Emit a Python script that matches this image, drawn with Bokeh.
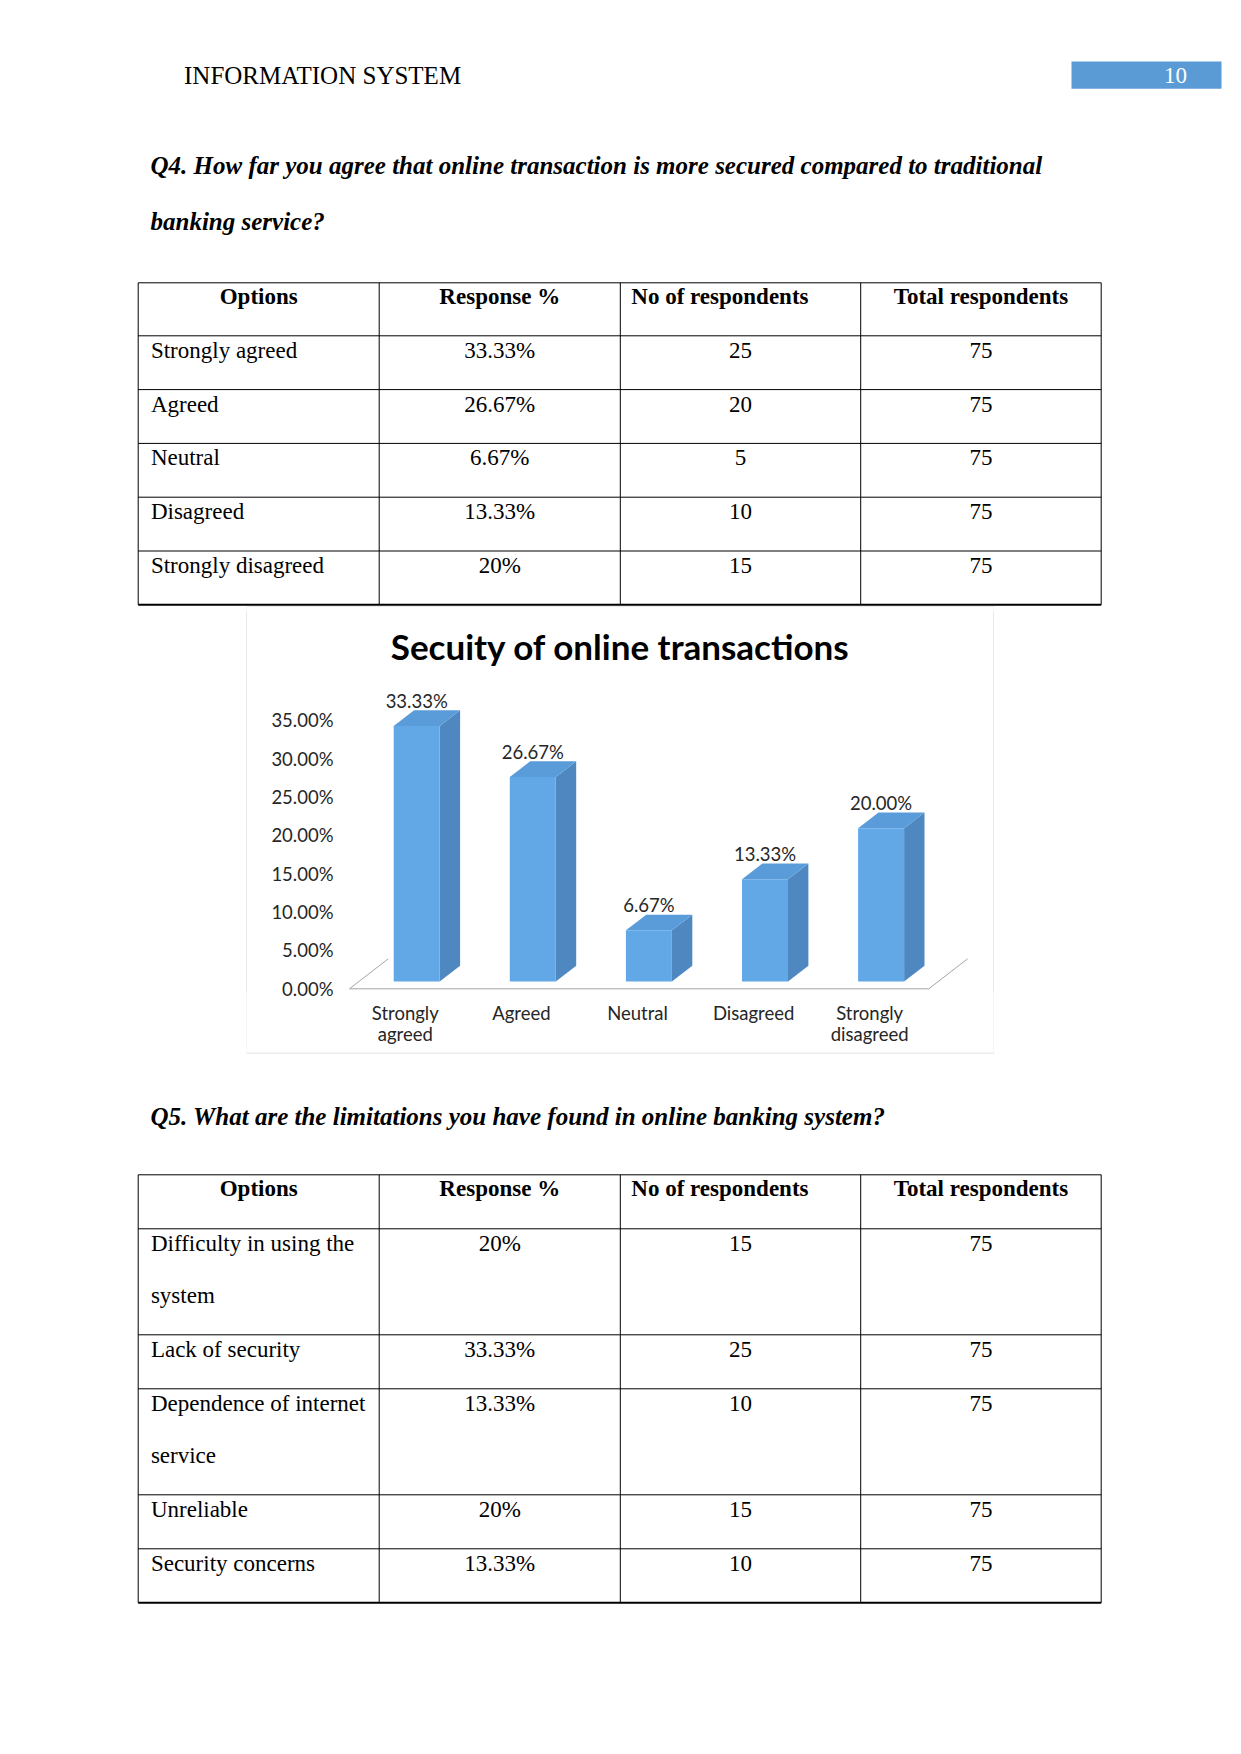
from bokeh.plotting import figure
from bokeh.models import Range1d, FixedTicker, PrintfTickFormatter, Spacer
from bokeh.layouts import column, row
from bokeh.embed import file_html
from bokeh.resources import INLINE
from bokeh.core.properties import value

# ---------------- data ----------------
header_title = "INFORMATION SYSTEM"
page_number = "10"
q4_question = ["Q4. How far you agree that online transaction is more secured compared to traditional",
               "banking service?"]
q5_question = "Q5.  What are the limitations you have found in online banking system?"
table_headers = ["Options", "Response %", "No of respondents", "Total respondents"]

q4_options = ["Strongly agreed", "Agreed", "Neutral", "Disagreed", "Strongly disagreed"]
q4_response = ["33.33%", "26.67%", "6.67%", "13.33%", "20%"]
q4_count = [25, 20, 5, 10, 15]
q4_total = [75, 75, 75, 75, 75]

chart_title = "Secuity of online transactions"
chart_labels = ["Strongly\nagreed", "Agreed", "Neutral", "Disagreed", "Strongly\ndisagreed"]
chart_pct = [33.33, 26.67, 6.67, 13.33, 20.00]
y_ticks = [0, 5, 10, 15, 20, 25, 30, 35]

q5_options = ["Difficulty in using the\nsystem", "Lack of security", "Dependence of internet\nservice",
              "Unreliable", "Security concerns"]
q5_response = ["20%", "33.33%", "13.33%", "20%", "13.33%"]
q5_count = [15, 25, 10, 15, 10]
q5_total = [75, 75, 75, 75, 75]

# ---------------- helpers ----------------
SERIF = value("Liberation Serif")
PAGE_W = 1241
BOX_L, BOX_R = 246, 994          # chart box (page px)
BOX_T, BOX_B = 607, 1052
BORDER = "#d9d9d9"


def page_fig(y0, y1):
    p = figure(width=PAGE_W, height=int(y1 - y0), x_range=Range1d(0, PAGE_W),
               y_range=Range1d(y1, y0), x_axis_type=None, y_axis_type=None,
               toolbar_location=None, output_backend="svg", min_border=0)
    p.grid.visible = False
    p.outline_line_color = None
    p.background_fill_color = "white"
    p.border_fill_color = "white"
    return p


def thin_fig(h):
    p = figure(width=1, height=h, x_range=Range1d(0, 1), y_range=Range1d(0, 1),
               x_axis_type=None, y_axis_type=None, toolbar_location=None,
               output_backend="svg", min_border=0)
    p.grid.visible = False
    p.outline_line_color = None
    p.background_fill_color = BORDER
    p.border_fill_color = BORDER
    p.quad(left=[0], right=[1], bottom=[0], top=[1], fill_color=BORDER, line_color=None)
    return p


COL_X = [137.7, 378.7, 619.8, 860.2, 1100.7]


def draw_table(p, top, header_h, row_h, line_gap, cols):
    rows = list(zip(*cols))
    nlines = [str(r[0]).count("\n") + 1 for r in rows]
    ys = [top, top + header_h]
    for n in nlines:
        ys.append(ys[-1] + row_h + line_gap * (n - 1))
    p.segment(x0=[COL_X[0]] * len(ys), y0=ys, x1=[COL_X[-1]] * len(ys), y1=ys,
              line_color="black", line_width=[1] * (len(ys) - 1) + [2])
    p.segment(x0=COL_X, y0=[ys[0]] * len(COL_X), x1=COL_X, y1=[ys[-1]] * len(COL_X),
              line_color="black", line_width=1)
    hx, hy, ha = [], [], []
    for j, h in enumerate(table_headers):
        if j == 2:
            hx.append(COL_X[j] + 11); ha.append("left")
        else:
            hx.append((COL_X[j] + COL_X[j + 1]) / 2); ha.append("center")
        hy.append(ys[0] + 14)
    p.text(x=hx, y=hy, text=table_headers, text_align=ha, text_baseline="middle",
           text_font=SERIF, text_font_style="bold", text_font_size="23px", text_color="black")
    tx, ty, tt, ta = [], [], [], []
    for i, r in enumerate(rows):
        ry = ys[i + 1] + 14.5
        for k, line in enumerate(str(r[0]).split("\n")):
            tx.append(COL_X[0] + 12.7); ty.append(ry + k * line_gap); tt.append(line); ta.append("left")
        for j in range(1, 4):
            tx.append((COL_X[j] + COL_X[j + 1]) / 2); ty.append(ry); tt.append(str(r[j])); ta.append("center")
    p.text(x=tx, y=ty, text=tt, text_align=ta, text_baseline="middle",
           text_font=SERIF, text_font_size="23px", text_color="black")


# ---------------- top part ----------------
top = page_fig(0, BOX_T)
top.text(x=[183.5], y=[75], text=[header_title], text_baseline="middle", text_font=SERIF,
         text_font_size="25px", text_color="black")
top.quad(left=[1071], right=[1221], top=[61], bottom=[88.3], fill_color="#5b9bd5", line_color=None)
top.text(x=[1175], y=[75], text=[page_number], text_align="center", text_baseline="middle",
         text_font=SERIF, text_font_size="23px", text_color="white")
top.text(x=[150, 150], y=[165, 221], text=q4_question, text_baseline="middle",
         text_font=SERIF, text_font_style="bold italic", text_font_size="25px", text_color="black")
draw_table(top, 282.3, 53, 53.8, 52, [q4_options, q4_response, q4_count, q4_total])
top.segment(x0=[BOX_L], y0=[BOX_T - 0.5], x1=[BOX_R], y1=[BOX_T - 0.5], line_color=BORDER, line_width=1)

# ---------------- chart ----------------
CW = BOX_R - BOX_L - 2
CH = BOX_B - BOX_T
FRAME_L, FRAME_R, FRAME_T, FRAME_B = 340, 975, 612, 992
PX_X, PX_Y = 116.1, 7.666            # pixels per category / per percent
ZERO_X, ZERO_Y = 404.8, 988.3        # page position of first category / 0 %
x0 = (FRAME_L - ZERO_X) / PX_X
x1 = (FRAME_R - ZERO_X) / PX_X
y0 = (ZERO_Y - FRAME_B) / PX_Y
y1 = (ZERO_Y - FRAME_T) / PX_Y

chart = figure(width=CW, height=CH, x_range=Range1d(x0, x1), y_range=Range1d(y0, y1),
               toolbar_location=None, output_backend="svg",
               min_border_left=FRAME_L - BOX_L - 1, min_border_right=BOX_R - 1 - FRAME_R,
               min_border_top=FRAME_T - BOX_T, min_border_bottom=BOX_B - FRAME_B)
chart.grid.visible = False
chart.outline_line_color = None
chart.background_fill_color = "white"
chart.border_fill_color = "white"

yax = chart.yaxis[0]
yax.ticker = FixedTicker(ticks=y_ticks)
yax.formatter = PrintfTickFormatter(format="%.2f%%")
yax.axis_line_color = None
yax.major_tick_line_color = None
yax.minor_tick_line_color = None
yax.major_label_standoff = 1
yax.major_label_text_font = "Lato"
yax.major_label_text_font_size = "18.5px"
yax.major_label_text_color = "#262626"

xax = chart.xaxis[0]
xax.ticker = FixedTicker(ticks=list(range(len(chart_labels))))
xax.major_label_overrides = {i: lbl for i, lbl in enumerate(chart_labels)}
xax.axis_line_color = None
xax.major_tick_line_color = None
xax.minor_tick_line_color = None
xax.major_label_standoff = 3
xax.major_label_text_font = "Lato"
xax.major_label_text_font_size = "18.5px"
xax.major_label_text_line_height = 0.97
xax.major_label_text_color = "#262626"

# 3-D projection constants (in pixels, converted to data units)
front_dx, front_dy = 11.4 / PX_X, 7.3 / PX_Y
half_w = 23 / PX_X
depth_x, depth_y = 20.4 / PX_X, 15.7 / PX_Y
floor_dx, floor_dy = 38.8 / PX_X, 30 / PX_Y

n = len(chart_pct)
fl, fr = -0.481, n - 0.491
chart.segment(x0=[fl, fl, fr], y0=[0, 0, 0], x1=[fr, fl + floor_dx, fr + floor_dx],
              y1=[0, floor_dy, floor_dy], line_color="#a6a6a6", line_width=1)

xl = [i + front_dx - half_w for i in range(n)]
xr = [i + front_dx + half_w for i in range(n)]
yb = [front_dy] * n
yt = [front_dy + v for v in chart_pct]

side_xs = [[r, r + depth_x, r + depth_x, r] for r in xr]
side_ys = [[b, b + depth_y, t + depth_y, t] for b, t in zip(yb, yt)]
top_xs = [[l, r, r + depth_x, l + depth_x] for l, r in zip(xl, xr)]
top_ys = [[t, t, t + depth_y, t + depth_y] for t in yt]
chart.patches(side_xs, side_ys, fill_color="#4f88c1", line_color=None)
chart.patches(top_xs, top_ys, fill_color="#5a9bd9", line_color=None)
chart.quad(left=xl, right=xr, bottom=yb, top=yt, fill_color="#62a8e6", line_color=None)

chart.text(x=[(l + r) / 2 for l, r in zip(xl, xr)], y=[t + depth_y + 1.2 for t in yt],
           text=["%.2f%%" % v for v in chart_pct], text_align="center", text_baseline="middle",
           text_font=value("Lato"), text_font_size="18.5px", text_color="#262626")

# chart title, centred on the chart box
chart.text(x=[((BOX_L + BOX_R) / 2 - ZERO_X) / PX_X], y=[(ZERO_Y - 645.5) / PX_Y], text=[chart_title],
           text_align="center", text_baseline="middle", text_font=value("Lato"),
           text_font_style="bold", text_font_size="35px", text_color="black")

chart_row = row(Spacer(width=BOX_L, height=CH), thin_fig(CH), chart, thin_fig(CH))

# ---------------- bottom part ----------------
bottom = page_fig(BOX_B, 1754)
bottom.segment(x0=[BOX_L], y0=[BOX_B + 0.5], x1=[BOX_R], y1=[BOX_B + 0.5], line_color=BORDER, line_width=1)
bottom.text(x=[150], y=[1115.5], text=[q5_question], text_baseline="middle", text_font=SERIF,
            text_font_style="bold italic", text_font_size="25px", text_color="black")
draw_table(bottom, 1174.3, 54, 54, 52, [q5_options, q5_response, q5_count, q5_total])

layout = column(top, chart_row, bottom)
open("out.html", "w").write(file_html(layout, INLINE))
